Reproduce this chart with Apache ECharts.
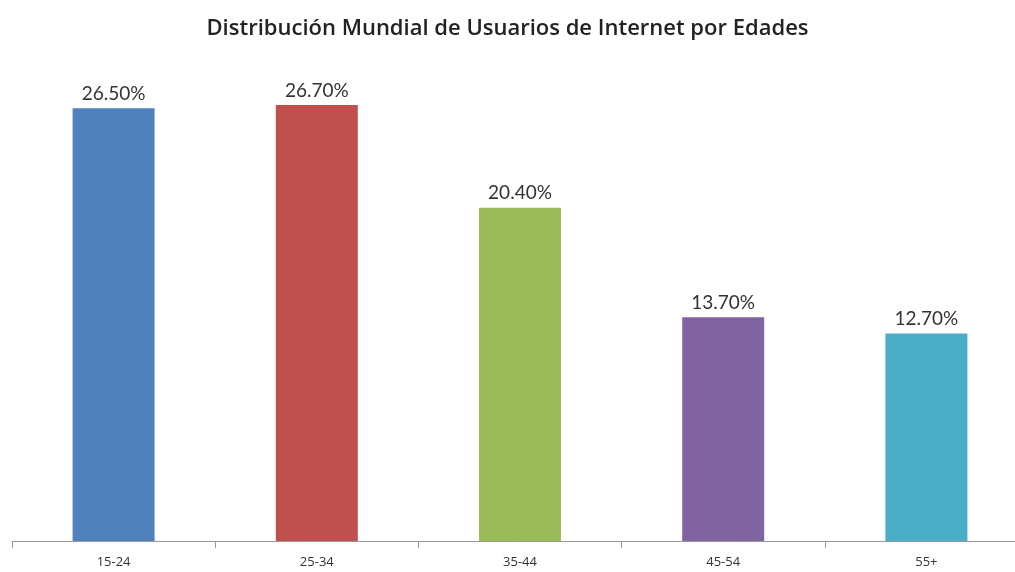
<!DOCTYPE html>
<html>
<head>
<meta charset="utf-8">
<script src="https://cdn.jsdelivr.net/npm/echarts@6/dist/echarts.min.js"></script>
<style>
    html, body { margin: 0; padding: 0; background: #fff; }
    #main { width: 1015px; height: 572px; }
</style>
</head>
<body>
<div id="main"></div>
<script>
var categories = ['15-24', '25-34', '35-44', '45-54', '55+'];
var values = [26.5, 26.7, 20.4, 13.7, 12.7];
var colors = ['#4F81BD', '#C0504D', '#9BBB59', '#8064A2', '#4BACC6'];

var chart = echarts.init(document.getElementById('main'));
var option = {
    backgroundColor: '#fff',
    title: {
        text: 'Distribución Mundial de Usuarios de Internet por Edades',
        left: 'center',
        top: 13,
        textStyle: {
            fontFamily: 'Open Sans',
            fontSize: 22,
            fontWeight: 600,
            color: '#222'
        }
    },
    grid: {
        left: 12,
        width: 1016,
        top: 51,
        height: 490,
        outerBoundsMode: 'none'
    },
    xAxis: {
        type: 'category',
        data: categories,
        axisLine: { lineStyle: { color: '#999' } },
        axisTick: { show: true, length: 7, lineStyle: { color: '#999' } },
        axisLabel: {
            margin: 15,
            fontFamily: 'Open Sans',
            fontSize: 13,
            color: '#333'
        }
    },
    yAxis: {
        type: 'value',
        min: 0,
        max: 30,
        show: false,
        splitLine: { show: false }
    },
    series: [{
        type: 'bar',
        barWidth: 82,
        data: values.map(function (v, i) {
            return { value: v, itemStyle: { color: colors[i] } };
        }),
        label: {
            show: true,
            position: 'top',
            distance: 5,
            fontFamily: 'Lato',
            fontSize: 19,
            color: '#333',
            formatter: function (p) { return p.value.toFixed(2) + '%'; }
        }
    }]
};
chart.setOption(option);
</script>
</body>
</html>
